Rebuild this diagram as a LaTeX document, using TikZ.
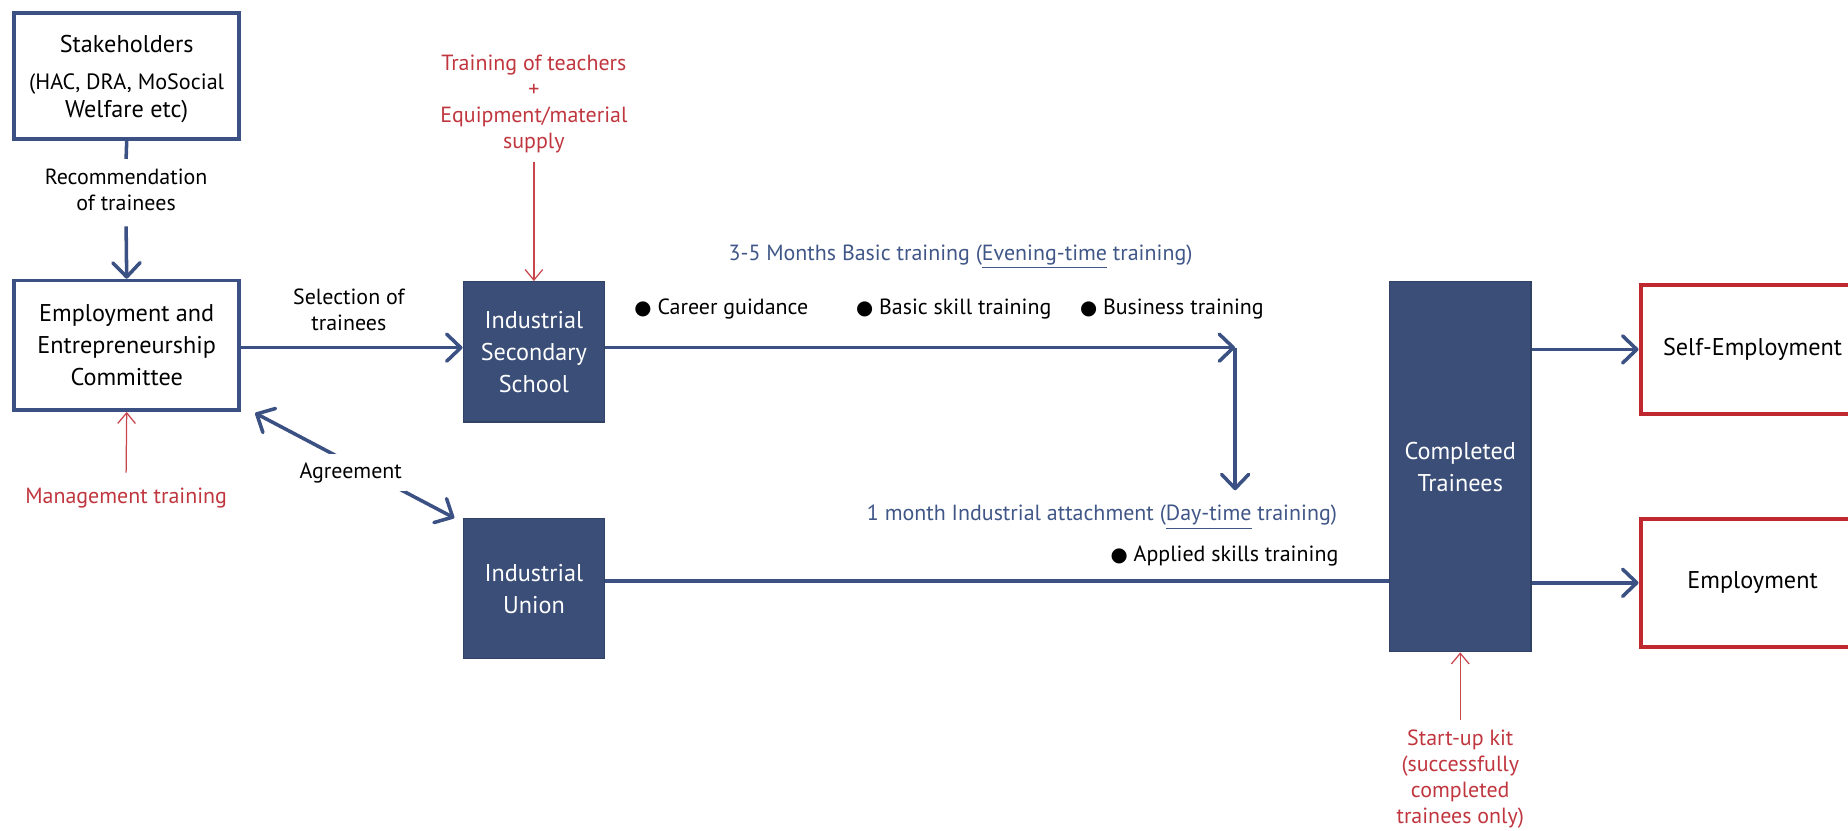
\documentclass[tikz,border=0pt]{standalone}
\usepackage{fontspec}
\setmainfont{PT Sans}
\newfontfamily\symfont{DejaVu Sans}
\usetikzlibrary{arrows.meta}

\definecolor{navy}{HTML}{3B5183}
\definecolor{boxfill}{HTML}{3A4E78}
\definecolor{darkred}{HTML}{C0282F}
\definecolor{redline}{HTML}{C8454C}
\definecolor{redtext}{HTML}{C0363F}
\definecolor{titleblue}{HTML}{3F5687}

\newcommand{\bul}{{\symfont\fontsize{9.5}{12}\selectfont ●}\hspace{0.1cm}}

\tikzset{
  labelfont/.style={font=\fontsize{10.6}{12.6}\selectfont},
  boxfont/.style={font=\fontsize{11.7}{15.4}\selectfont},
  outline/.style={draw=navy, line width=0.06cm, align=center, boxfont, inner sep=0pt},
  solidbox/.style={fill=boxfill, draw=boxfill!85!black, line width=0.6pt, text=white,
                   align=center, boxfont, inner sep=0pt},
  result/.style={draw=darkred, line width=0.07cm, boxfont, inner sep=0pt},
  note/.style={align=center, labelfont, inner sep=0pt},
  rednote/.style={note, text=redtext},
  heading/.style={labelfont, text=titleblue, inner sep=0pt},
  item/.style={labelfont, anchor=west, inner sep=0pt},
  navyline/.style={draw=navy, line width=0.06cm},
  flow/.style={navyline, -{Straight Barb[length=0.24cm, width=0.46cm, round]}},
  twoway/.style={navyline, {Straight Barb[length=0.24cm, width=0.46cm, round]}-{Straight Barb[length=0.24cm, width=0.46cm, round]}},
  support/.style={draw=redline, line width=0.6pt, -{Straight Barb[length=0.18cm, width=0.3cm]}},
}

\begin{document}
\begin{tikzpicture}[x=0.02cm, y=-0.02cm]
\useasboundingbox (0,0) rectangle (1568,705);

% boxes
\node[outline, minimum width=3.82cm, minimum height=2.14cm] (sh) at (107.5,64.5) {};
\node[align=center, boxfont, inner sep=0pt] (shtext) at (107.5,67)
  {Stakeholders\\[2.5pt]\fontsize{10.7}{13}\selectfont (HAC, DRA, MoSocial\\[-2pt]Welfare etc)};
\node[outline, minimum width=3.82cm, minimum height=2.2cm] (eec) at (107.5,293)
  {Employment and\\Entrepreneurship\\Committee};
\node[solidbox, minimum width=2.4cm, minimum height=2.38cm] (iss) at (453,298.5)
  {Industrial\\Secondary\\School};
\node[solidbox, minimum width=2.4cm, minimum height=2.38cm] (iu) at (453,499.5)
  {Industrial\\Union};
\node[solidbox, minimum width=2.4cm, minimum height=6.28cm] (ct) at (1239,396)
  {Completed\\Trainees};
\node[result, minimum width=3.8cm, minimum height=2.18cm] (se) at (1487,296.5)
  {Self-Employment};
\node[result, minimum width=3.8cm, minimum height=2.18cm] (emp) at (1487,494.5)
  {Employment};

% labels
\node[note] (rec) at (107,161) {Recommendation\\of trainees};
\node[note] (sel) at (296,263) {Selection of\\trainees};
\node[rednote] (mgmt) at (107,423) {Management training};
\node[rednote] (tt) at (453,88) {Training of teachers\\+\\Equipment/material\\supply};
\node[rednote] (kit) at (1239,661) {Start-up kit\\(successfully\\completed\\trainees only)};
\node[heading] (basic) at (815,218) {3-5 Months Basic training (\underline{Evening-time} training)};
\node[heading] (attach) at (935,439) {1 month Industrial attachment (\underline{Day-time} training)};
\node[item] (i1) at (538,262) {\bul Career guidance};
\node[item] (i2) at (726,262) {\bul Basic skill training};
\node[item] (i3) at (916,262) {\bul Business training};
\node[item] (i4) at (942,472) {\bul Applied skills training};

% connectors
\draw[navyline] (sh.south) -- ([yshift=0.16cm]rec.north);
\draw[flow] ([yshift=-0.26cm]rec.south) -- (eec.north);
\draw[flow] ([yshift=-0.04cm]eec.east) -- ([yshift=-0.04cm]eec.east -| iss.west);
\draw[twoway] ([xshift=0.24cm,yshift=-0.02cm]eec.south east) -- ([xshift=-0.14cm]iu.north west)
  node[pos=0.48, yshift=-0.16cm, fill=white, labelfont, inner xsep=2pt, inner ysep=4pt] (agr) {Agreement};
\coordinate (turn) at (1048,295);
\coordinate (drop) at (1048,416);
\draw[flow] (iss.east |- turn) -- (turn);
\draw[flow] (turn) -- (drop);
\draw[navyline] ([yshift=0.13cm]iu.east) -- ([yshift=0.13cm]iu.east -| ct.west);
\draw[flow] (ct.east |- se.west) -- (se.west);
\draw[flow] (ct.east |- emp.west) -- (emp.west);
\draw[support] ([yshift=0.26cm]mgmt.north) -- (eec.south);
\draw[support] ([yshift=-0.14cm]tt.south) -- (iss.north);
\draw[support] ([yshift=0.16cm]kit.north) -- (ct.south);
\end{tikzpicture}
\end{document}
